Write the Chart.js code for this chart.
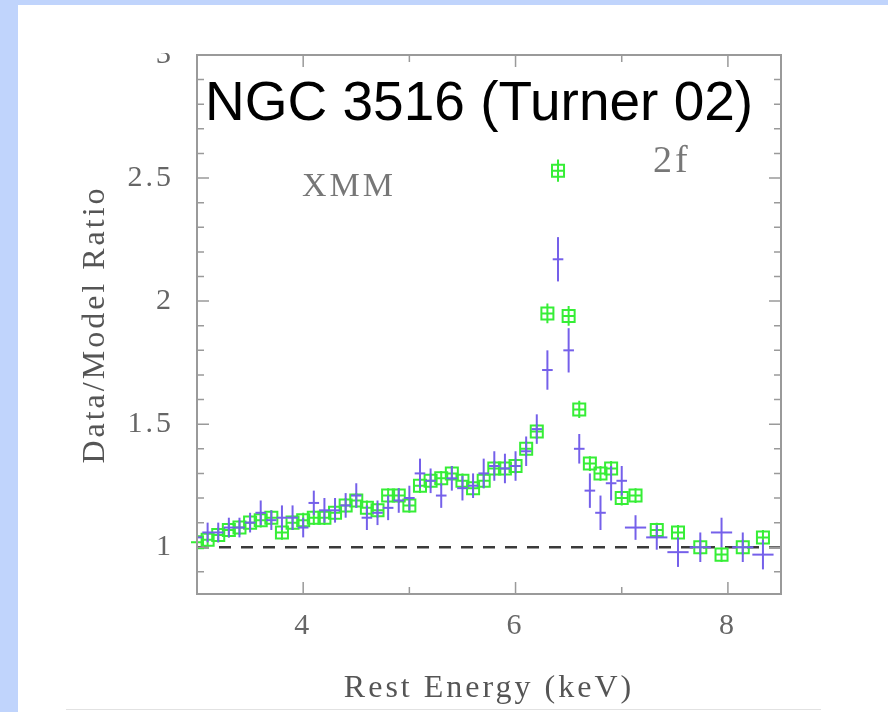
<!DOCTYPE html>
<html><head><meta charset="utf-8">
<script src="https://cdn.jsdelivr.net/npm/chart.js@4"></script>
<style>
html,body{margin:0;padding:0;background:#fff;width:888px;height:712px;overflow:hidden;position:relative}
#bandL{position:absolute;left:0;top:0;width:18px;height:712px;background:#c0d4fc}
#bandT{position:absolute;left:0;top:0;width:888px;height:5px;background:#c0d4fc}
#rule{position:absolute;left:66px;top:709px;width:755px;height:1px;background:#e2e2e2}
#wrap{position:absolute;left:18px;top:53px;width:870px;height:659px}
canvas{display:block}
</style></head><body>
<div id="bandL"></div><div id="bandT"></div><div id="rule"></div>
<div id="wrap"><canvas id="c" width="870" height="659"></canvas></div>
<script>
// ---- data ----
const energy = [3.0,3.1,3.2,3.3,3.4,3.5,3.6,3.7,3.8,3.9,4.0,4.1,4.2,4.3,4.4,4.5,4.6,4.7,4.8,4.9,5.0,5.1,5.2,5.3,5.4,5.5,5.6,5.7,5.8,5.9,6.0,6.1,6.2,6.3,6.4,6.5,6.6,6.7,6.8,6.9,7.0,7.13,7.33,7.53,7.74,7.94,8.14,8.33];
const binHalfWidth = [0.05,0.05,0.05,0.05,0.05,0.05,0.05,0.05,0.05,0.05,0.05,0.05,0.05,0.05,0.05,0.05,0.05,0.05,0.05,0.05,0.05,0.05,0.05,0.05,0.05,0.05,0.05,0.05,0.05,0.05,0.05,0.05,0.05,0.05,0.05,0.05,0.05,0.05,0.05,0.05,0.05,0.1,0.1,0.1,0.1,0.1,0.1,0.1];
const ratioBlue = [1.04,1.06,1.06,1.08,1.08,1.10,1.14,1.11,1.12,1.12,1.08,1.18,1.15,1.15,1.17,1.21,1.12,1.14,1.16,1.19,1.20,1.30,1.27,1.21,1.28,1.24,1.25,1.30,1.33,1.32,1.33,1.39,1.48,1.72,2.17,1.80,1.40,1.23,1.14,1.26,1.27,1.08,1.04,0.98,1.00,1.06,1.00,0.97];
const errBlue = [0.04,0.04,0.04,0.04,0.04,0.04,0.05,0.04,0.05,0.05,0.04,0.05,0.05,0.05,0.05,0.05,0.05,0.05,0.05,0.05,0.05,0.06,0.05,0.05,0.05,0.05,0.05,0.06,0.06,0.06,0.06,0.06,0.06,0.08,0.09,0.09,0.06,0.07,0.07,0.07,0.06,0.05,0.05,0.06,0.06,0.06,0.06,0.06];
const ratioGreen = [1.02,1.03,1.05,1.07,1.08,1.10,1.11,1.12,1.06,1.10,1.11,1.12,1.12,1.14,1.17,1.19,1.16,1.15,1.21,1.21,1.17,1.25,1.27,1.28,1.30,1.27,1.24,1.27,1.32,1.32,1.33,1.40,1.47,1.95,2.53,1.94,1.56,1.34,1.30,1.32,1.20,1.21,1.07,1.06,1.00,0.97,1.00,1.04];
const errGreen = [0.03,0.03,0.03,0.03,0.03,0.03,0.03,0.03,0.03,0.03,0.03,0.03,0.03,0.03,0.03,0.03,0.03,0.03,0.03,0.03,0.03,0.03,0.03,0.03,0.03,0.03,0.03,0.03,0.03,0.03,0.03,0.03,0.03,0.04,0.045,0.04,0.035,0.03,0.03,0.03,0.03,0.03,0.03,0.03,0.03,0.03,0.03,0.03];
const unityLine = [{x:3.0,y:1},{x:8.5,y:1}];
// ---- axes ----
const xTickLabels = [4,6,8];
const xTickMarks = [4,5,6,7,8];
const yTickLabels = [1,1.5,2,2.5];
const yTopLabel = 3;
const yTickMarks = [0.9,1.0,1.1,1.2,1.3,1.4,1.5,1.6,1.7,1.8,1.9,2.0,2.1,2.2,2.3,2.4,2.5,2.6,2.7,2.8,2.9];
const yMajorMarks = [1,1.5,2,2.5];
const xRange = [3, 8.5];
const yRange = [0.81, 3];

const BLUE = '#7560ea', GREEN = '#36ee36', FRAME = '#9a9a9a', TXT = '#666';
const TICKFONT = '30px "Liberation Serif"';

const decor = {
  id: 'decor',
  beforeDraw(chart){ chart.ctx.letterSpacing = '3px'; },
  afterDatasetDraw(chart, args){
    const ds = chart.data.datasets[args.index];
    if (!ds.errY) return;
    const ctx = chart.ctx, xs = chart.scales.x, ys = chart.scales.y;
    ctx.save();
    ctx.strokeStyle = ds.borderColor; ctx.lineWidth = 2;
    ds.data.forEach((p,i)=>{
      const px = xs.getPixelForValue(p.x);
      ctx.beginPath();
      ctx.moveTo(px, ys.getPixelForValue(p.y - ds.errY[i]));
      ctx.lineTo(px, ys.getPixelForValue(p.y + ds.errY[i]));
      if (ds.boxCross){ const py = ys.getPixelForValue(p.y); ctx.moveTo(px-6,py); ctx.lineTo(px+6,py); }
      ctx.stroke();
    });
    ctx.restore();
  },
  afterDraw(chart){
    const ctx = chart.ctx, xs = chart.scales.x, ys = chart.scales.y;
    const {left,right,top,bottom} = chart.chartArea;
    ctx.save();
    ctx.strokeStyle = FRAME; ctx.lineWidth = 2;
    ctx.strokeRect(left, top, right-left, bottom-top);
    ctx.lineWidth = 1.5;
    ctx.beginPath();
    xTickMarks.forEach(v=>{
      const px = xs.getPixelForValue(v), len = xTickLabels.includes(v) ? 12 : 7;
      ctx.moveTo(px,bottom); ctx.lineTo(px,bottom-len);
      ctx.moveTo(px,top); ctx.lineTo(px,top+len);
    });
    yTickMarks.forEach(v=>{
      const py = ys.getPixelForValue(v), len = yMajorMarks.includes(v) ? 12 : 7;
      ctx.moveTo(left,py); ctx.lineTo(left+len,py);
      ctx.moveTo(right,py); ctx.lineTo(right-len,py);
    });
    ctx.stroke();
    // top tick label (cut by the picture edge in the original)
    ctx.letterSpacing = '3px';
    ctx.fillStyle = TXT; ctx.font = TICKFONT;
    ctx.textAlign = 'right'; ctx.textBaseline = 'middle';
    ctx.fillText(String(yTopLabel), left - 23, ys.getPixelForValue(yTopLabel));
    // annotations
    ctx.textBaseline = 'alphabetic'; ctx.textAlign = 'left';
    ctx.fillStyle = '#777';
    ctx.font = '34px "Liberation Serif"';
    ctx.fillText('XMM', 284, 143);
    ctx.font = '38px "Liberation Serif"';
    ctx.fillText('2f', 635, 119);
    ctx.letterSpacing = '0px';
    ctx.fillStyle = '#000';
    ctx.font = '55px "Liberation Sans"';
    ctx.fillText('NGC 3516 (Turner 02)', 187, 67);
    ctx.restore();
  }
};

const pts = (ys) => energy.map((e,i)=>({x:e, y:ys[i]}));

new Chart(document.getElementById('c'), {
  type: 'scatter',
  data: { datasets: [
    { label:'XMM pn', data: pts(ratioBlue), errY: errBlue, borderColor: BLUE, backgroundColor: BLUE,
      pointStyle:'line', borderWidth:2, showLine:false,
      pointRadius: (c)=>{ const s=c.chart.scales.x; const i=c.dataIndex; if(!s) return 5;
        return s.getPixelForValue(energy[i]+binHalfWidth[i]) - s.getPixelForValue(energy[i]); } },
    { label:'XMM green', data: pts(ratioGreen), errY: errGreen, boxCross: true, borderColor: GREEN,
      backgroundColor:'rgba(0,0,0,0)', pointStyle:'rect', pointRadius:8.5, borderWidth:2, showLine:false },
    { type:'line', label:'unity', data: unityLine, borderColor:'#3a3a3a', borderWidth:2.5, borderDash:[12,10],
      pointRadius:0, fill:false }
  ]},
  options: {
    responsive:false, animation:false, devicePixelRatio:1,
    layout:{ autoPadding:false, padding:{ left:0, right:107, top:2, bottom:0 } },
    plugins:{ legend:{display:false}, tooltip:{enabled:false} },
    scales:{
      x:{ type:'linear', min:xRange[0], max:xRange[1],
        grid:{display:false, drawTicks:false}, border:{display:false},
        afterBuildTicks:(s)=>{ s.ticks = xTickLabels.map(v=>({value:v})); },
        afterFit:(s)=>{ s.height = 118; s.paddingLeft=0; s.paddingRight=0; },
        ticks:{ color:TXT, padding:14, maxRotation:0, autoSkip:false,
          callback:(v)=>String(v), font:{family:'Liberation Serif', size:30} },
        title:{ display:true, text:'Rest Energy (keV)', color:'#555',
          font:{family:'Liberation Serif', size:32}, padding:{top:0,bottom:4} } },
      y:{ type:'linear', min:yRange[0], max:yRange[1],
        grid:{display:false, drawTicks:false}, border:{display:false},
        afterBuildTicks:(s)=>{ s.ticks = yTickLabels.map(v=>({value:v})); },
        afterFit:(s)=>{ s.width = 179; s.paddingTop=0; s.paddingBottom=0; },
        ticks:{ color:TXT, padding:23, autoSkip:false, callback:(v)=>String(v),
          font:{family:'Liberation Serif', size:30} },
        title:{ display:true, text:'Data/Model Ratio', color:'#555',
          font:{family:'Liberation Serif', size:32}, padding:{top:58,bottom:0} } }
    }
  },
  plugins:[decor]
});
</script></body></html>
